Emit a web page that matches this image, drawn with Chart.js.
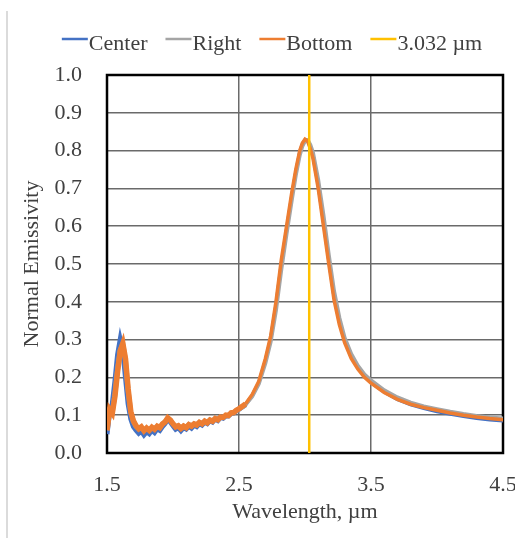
<!DOCTYPE html>
<html>
<head>
<meta charset="utf-8">
<script src="https://cdn.jsdelivr.net/npm/chart.js@4.4.1/dist/chart.umd.min.js"></script>
<style>
    html, body { margin: 0; padding: 0; background: #fff; }
    #wrap { width: 515px; height: 538px; }
</style>
</head>
<body>
<div id="wrap"><canvas id="chart"></canvas></div>
<script>
// ── Datos ────────────────────────────────────────────────────
const wavelengths = [
    1.50, 1.52, 1.54, 1.56, 1.58, 1.60, 1.62, 1.64, 1.66, 1.68,
    1.70, 1.72, 1.74, 1.76, 1.78, 1.80, 1.82, 1.84, 1.86, 1.88,
    1.90, 1.92, 1.94, 1.96, 1.98, 2.00, 2.02, 2.04, 2.06, 2.08,
    2.10, 2.12, 2.14, 2.16, 2.18, 2.20, 2.22, 2.24, 2.26, 2.28,
    2.30, 2.32, 2.34, 2.36, 2.38, 2.40, 2.42, 2.44, 2.46, 2.48,
    2.50, 2.55, 2.60, 2.65, 2.70, 2.74, 2.78, 2.82, 2.86, 2.90,
    2.93, 2.96, 2.98, 3.00, 3.02, 3.04, 3.06, 3.10, 3.14, 3.18,
    3.22, 3.26, 3.30, 3.35, 3.40, 3.45, 3.50, 3.60, 3.70, 3.80,
    3.90, 4.00, 4.10, 4.20, 4.30, 4.40, 4.50
];

const centerValues = [
    0.050, 0.110, 0.130, 0.190, 0.260, 0.300, 0.270, 0.200, 0.130, 0.090,
    0.070, 0.060, 0.052, 0.058, 0.048, 0.056, 0.051, 0.060, 0.054, 0.064,
    0.060, 0.070, 0.078, 0.090, 0.082, 0.072, 0.063, 0.067, 0.059, 0.067,
    0.063, 0.071, 0.066, 0.074, 0.070, 0.078, 0.074, 0.082, 0.078, 0.086,
    0.082, 0.090, 0.086, 0.094, 0.092, 0.098, 0.098, 0.104, 0.106, 0.111,
    0.116, 0.128, 0.152, 0.186, 0.244, 0.302, 0.390, 0.498, 0.590, 0.680,
    0.742, 0.795, 0.817, 0.828, 0.826, 0.810, 0.787, 0.710, 0.612, 0.512,
    0.415, 0.348, 0.298, 0.255, 0.226, 0.203, 0.187, 0.161, 0.142, 0.128,
    0.118, 0.110, 0.103, 0.097, 0.092, 0.088, 0.085
];

const rightValues = [
    0.060, 0.112, 0.108, 0.155, 0.220, 0.272, 0.288, 0.245, 0.165, 0.108,
    0.084, 0.070, 0.064, 0.067, 0.060, 0.065, 0.061, 0.067, 0.064, 0.070,
    0.068, 0.076, 0.083, 0.091, 0.087, 0.077, 0.070, 0.072, 0.066, 0.071,
    0.068, 0.075, 0.071, 0.077, 0.074, 0.081, 0.078, 0.084, 0.081, 0.087,
    0.085, 0.091, 0.089, 0.095, 0.094, 0.099, 0.100, 0.105, 0.107, 0.112,
    0.116, 0.128, 0.150, 0.183, 0.238, 0.295, 0.378, 0.485, 0.580, 0.670,
    0.735, 0.788, 0.812, 0.826, 0.828, 0.815, 0.795, 0.722, 0.628, 0.524,
    0.428, 0.358, 0.305, 0.262, 0.231, 0.208, 0.192, 0.166, 0.147, 0.133,
    0.123, 0.116, 0.109, 0.103, 0.098, 0.094, 0.091
];

const bottomValues = [
    0.060, 0.115, 0.105, 0.150, 0.215, 0.270, 0.290, 0.250, 0.170, 0.110,
    0.085, 0.072, 0.064, 0.069, 0.059, 0.066, 0.060, 0.068, 0.063, 0.071,
    0.067, 0.077, 0.082, 0.093, 0.087, 0.077, 0.069, 0.072, 0.065, 0.071,
    0.067, 0.075, 0.071, 0.077, 0.074, 0.081, 0.077, 0.084, 0.080, 0.087,
    0.084, 0.091, 0.088, 0.095, 0.094, 0.100, 0.099, 0.106, 0.107, 0.113,
    0.117, 0.130, 0.155, 0.190, 0.250, 0.310, 0.400, 0.510, 0.600, 0.690,
    0.750, 0.800, 0.820, 0.830, 0.825, 0.805, 0.780, 0.700, 0.600, 0.500,
    0.405, 0.340, 0.292, 0.250, 0.222, 0.200, 0.185, 0.160, 0.142, 0.129,
    0.120, 0.113, 0.106, 0.100, 0.095, 0.091, 0.088
];

const peakWavelength = 3.032;
const xTicks = [1.5, 2.5, 3.5, 4.5];
const seriesLabels = ["Center", "Right", "Bottom", "3.032 µm"];
const seriesColors = ["#4472C4", "#A5A5A5", "#ED7D31", "#FFC000"];

const FONT = "'Liberation Serif', 'Times New Roman', serif";
const TEXT = "#404040";

function toPoints(values) {
    return wavelengths.map((w, i) => ({ x: w, y: values[i] }));
}

// zona ruidosa (< 2.55 µm) se ve como banda gruesa
function noisyWidth(base, wide) {
    return ctx => (ctx.p0.parsed.x < 2.55 ? wide : base);
}

// ── Leyenda y marco a mano ───────────────────────────────────
const framePlugin = {
    id: "frame",
    beforeDatasetsDraw(chart) {
        const { ctx, chartArea: a } = chart;
        ctx.save();
        ctx.strokeStyle = "#000";
        ctx.lineWidth = 2.5;
        ctx.strokeRect(a.left, a.top, a.right - a.left, a.bottom - a.top);
        ctx.restore();
    },
    afterDraw(chart) {
        const ctx = chart.ctx;
        ctx.save();
        // linea gris del borde izquierdo
        ctx.strokeStyle = "#cfcfcf";
        ctx.lineWidth = 1.5;
        ctx.beginPath();
        ctx.moveTo(7, 11);
        ctx.lineTo(7, 538);
        ctx.stroke();

        ctx.font = "22px " + FONT;
        ctx.textBaseline = "alphabetic";
        const lineLen = 26, gapText = 1, gapItem = 18;
        const widths = seriesLabels.map(t => ctx.measureText(t).width);
        const total = widths.reduce((s, w) => s + w + lineLen + gapText, 0) + gapItem * (seriesLabels.length - 1);
        let x = 272 - total / 2;
        seriesLabels.forEach((t, i) => {
            ctx.strokeStyle = seriesColors[i];
            ctx.lineWidth = 2.5;
            ctx.beginPath();
            ctx.moveTo(x, 39);
            ctx.lineTo(x + lineLen, 39);
            ctx.stroke();
            ctx.fillStyle = TEXT;
            ctx.fillText(t, x + lineLen + gapText, 50);
            x += lineLen + gapText + widths[i] + gapItem;
        });
        ctx.restore();
    }
};

const ctx = document.getElementById("chart").getContext("2d");

new Chart(ctx, {
    type: "line",
    data: {
        datasets: [
            {
                label: seriesLabels[0],
                data: toPoints(centerValues),
                borderColor: seriesColors[0],
                borderWidth: 3.5,
                segment: { borderWidth: noisyWidth(3.5, 5) },
                order: 3
            },
            {
                label: seriesLabels[1],
                data: toPoints(rightValues),
                borderColor: seriesColors[1],
                borderWidth: 4,
                segment: { borderWidth: noisyWidth(4, 5) },
                order: 2
            },
            {
                label: seriesLabels[2],
                data: toPoints(bottomValues),
                borderColor: seriesColors[2],
                borderWidth: 3.5,
                segment: { borderWidth: noisyWidth(3.5, 5.5) },
                order: 1
            },
            {
                label: seriesLabels[3],
                data: [{ x: peakWavelength, y: 0 }, { x: peakWavelength, y: 1 }],
                borderColor: seriesColors[3],
                borderWidth: 2.5,
                order: 0
            }
        ]
    },
    options: {
        responsive: true,
        maintainAspectRatio: false,
        animation: false,
        elements: {
            point: { radius: 0, hoverRadius: 0 },
            line: { tension: 0, fill: false }
        },
        layout: { padding: { top: 75, right: 12, left: 0, bottom: 0 } },
        plugins: {
            legend: { display: false },
            tooltip: { enabled: false }
        },
        scales: {
            x: {
                type: "linear",
                min: 1.5,
                max: 4.5,
                afterBuildTicks: scale => {
                    scale.ticks = xTicks.map(v => ({ value: v }));
                },
                afterFit: scale => {
                    scale.height = 85;
                    scale.paddingLeft = 0;
                    scale.paddingRight = 0;
                },
                grid: { color: "#6a6a6a", lineWidth: 1.5, drawTicks: false },
                border: { display: false },
                ticks: {
                    padding: 19,
                    color: TEXT,
                    font: { family: FONT, size: 22 },
                    maxRotation: 0,
                    callback: v => Number(v).toFixed(1)
                },
                title: {
                    display: true,
                    text: "Wavelength, µm",
                    color: TEXT,
                    font: { family: FONT, size: 22 },
                    padding: { top: 0, bottom: 13 }
                }
            },
            y: {
                min: 0,
                max: 1,
                afterFit: scale => {
                    scale.width = 107;
                    scale.paddingTop = 0;
                    scale.paddingBottom = 0;
                },
                grid: { color: "#6a6a6a", lineWidth: 1.5, drawTicks: false },
                border: { display: false },
                ticks: {
                    stepSize: 0.1,
                    padding: 25,
                    color: TEXT,
                    font: { family: FONT, size: 22 },
                    callback: v => Number(v).toFixed(1)
                },
                title: {
                    display: true,
                    text: "Normal Emissivity",
                    color: TEXT,
                    font: { family: FONT, size: 22 },
                    padding: { top: 19, bottom: 0 }
                }
            }
        }
    },
    plugins: [framePlugin]
});
</script>
</body>
</html>
